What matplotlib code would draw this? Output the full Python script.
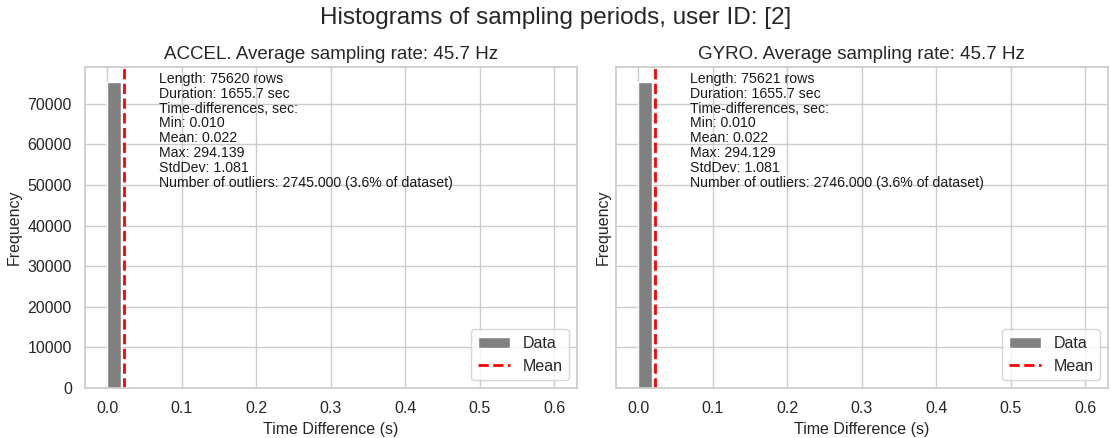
import matplotlib
matplotlib.use("Agg")
import matplotlib.pyplot as plt
import numpy as np
import seaborn as sns

sns.set_theme(style="whitegrid")
plt.rcParams['font.family'] = ['Liberation Sans', 'DejaVu Sans']

# Istogrammi dei periodi di campionamento (conteggi per bin, intervallo 0-0.6 s)
bin_edges = np.linspace(0.0, 0.6, 33)
accel_counts = [75300] + [0] * 31
gyro_counts = [75300] + [0] * 31

sensori = ["ACCEL", "GYRO"]
freq_media = [45.7, 45.7]
righe = [75620, 75621]
durata = [1655.7, 1655.7]
dt_min = [0.010, 0.010]
dt_mean = [0.022, 0.022]
dt_max = [294.139, 294.129]
dt_std = [1.081, 1.081]
outliers = [2745.000, 2746.000]
outliers_pct = [3.6, 3.6]
user_id = [2]

fig, axes = plt.subplots(1, 2, figsize=(11.11, 4.38), dpi=100, sharey=True)
fig.subplots_adjust(left=0.0765, right=0.997, bottom=0.114, top=0.847, wspace=0.08)

for i, (ax, counts) in enumerate(zip(axes, [accel_counts, gyro_counts])):
    centri = bin_edges[:-1]
    ax.hist(centri, bins=bin_edges, weights=counts, color="gray", label="Data")
    ax.axvline(dt_mean[i], color="red", linestyle="--", linewidth=2, label="Mean")
    testo = (f"Length: {righe[i]} rows\n"
             f"Duration: {durata[i]:.1f} sec\n"
             f"Time-differences, sec:\n"
             f"Min: {dt_min[i]:.3f}\n"
             f"Mean: {dt_mean[i]:.3f}\n"
             f"Max: {dt_max[i]:.3f}\n"
             f"StdDev: {dt_std[i]:.3f}\n"
             f"Number of outliers: {outliers[i]:.3f} ({outliers_pct[i]}% of dataset)")
    ax.text(0.15, 0.985, testo, transform=ax.transAxes, va="top", ha="left",
            fontsize=10.2, linespacing=1.08, color="#1a1a1a")
    ax.set_title(f"{sensori[i]}. Average sampling rate: {freq_media[i]} Hz", fontsize=13.5)
    ax.set_xlabel("Time Difference (s)", fontsize=11.5)
    ax.set_ylabel("Frequency", fontsize=11.5)
    ax.tick_params(labelsize=11.5)
    ax.legend(loc="lower right", fontsize=11.5)

fig.suptitle(f"Histograms of sampling periods, user ID: {user_id}", fontsize=17.5, y=0.985)
fig.savefig("out.png", dpi=100)
